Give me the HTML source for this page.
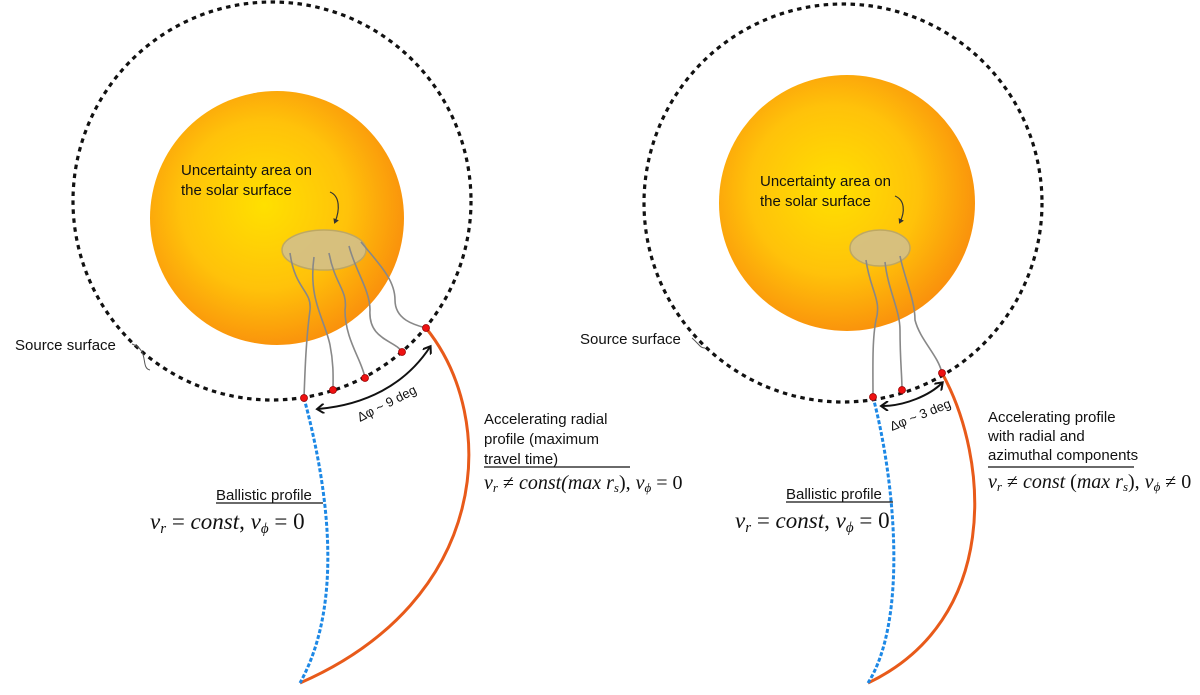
<!DOCTYPE html>
<html><head><meta charset="utf-8"><style>
body{margin:0;background:#fff;width:1200px;height:690px;overflow:hidden}
svg text{font-family:"Liberation Sans",sans-serif;fill:#111}
.m{font-family:"Liberation Serif",serif;font-style:italic}
</style></head><body>
<svg width="1200" height="690" viewBox="0 0 1200 690">
<defs>
<radialGradient id="sun" cx="0.45" cy="0.45" r="0.6">
<stop offset="0" stop-color="#ffe000"/><stop offset="0.55" stop-color="#ffc20a"/><stop offset="1" stop-color="#f98a0c"/>
</radialGradient>
<marker id="ah" markerWidth="10" markerHeight="10" refX="7" refY="5" orient="auto-start-reverse" markerUnits="userSpaceOnUse"><path d="M1,0 L8,5 L1,10" fill="none" stroke="#111" stroke-width="2"/></marker>
<marker id="sa" markerWidth="6" markerHeight="6" refX="3" refY="3" orient="auto" markerUnits="userSpaceOnUse"><path d="M0,0 L5,3 L0,6 z" fill="#333"/></marker>
</defs>
<!-- LEFT -->
<circle cx="272" cy="201" r="199" fill="none" stroke="#111" stroke-width="3.2" stroke-dasharray="4.5 4.5"/>
<circle cx="277" cy="218" r="127" fill="url(#sun)"/>
<ellipse cx="324" cy="250" rx="42" ry="20" fill="#d3c08a" stroke="#b8a56c" stroke-width="1.5" opacity="0.9"/>
<g fill="none" stroke="#888" stroke-width="1.6">
<path d="M290,253 C295,290 312,290 310,310 C306,340 305,370 304,398"/>
<path d="M314,257 C308,300 325,320 330,345 C334,365 333,380 333,390"/>
<path d="M329,253 C335,285 348,290 345,310 C345,340 362,360 365,378"/>
<path d="M349,246 C355,270 370,290 370,310 C368,340 395,340 402,352"/>
<path d="M361,242 C380,265 395,280 395,300 C395,320 415,325 426,328"/>
<path d="M330,192 C340,196 340,210 335,222" stroke="#333" stroke-width="1.2" marker-end="url(#sa)"/>
</g>
<path d="M426,328 C500,420 490,600 300,683" fill="none" stroke="#e85a1a" stroke-width="3"/>
<path d="M304,398 C326,480 346,600 300,683" fill="none" stroke="#1d88e5" stroke-width="3" stroke-dasharray="4 2"/>
<g fill="#e11" stroke="#900" stroke-width="0.8"><circle cx="304" cy="398" r="3.5"/><circle cx="333" cy="390" r="3.5"/><circle cx="365" cy="378" r="3.5"/><circle cx="402" cy="352" r="3.5"/><circle cx="426" cy="328" r="3.5"/></g>
<path d="M318,409 C365,405 405,385 430,347" fill="none" stroke="#111" stroke-width="2" marker-start="url(#ah)" marker-end="url(#ah)"/>
<text x="360" y="422" font-size="13" transform="rotate(-27 360 422)">Δφ ~ 9 deg</text>
<text x="181" y="175" font-size="15">Uncertainty area on</text>
<text x="181" y="195" font-size="15">the solar surface</text>
<text x="15" y="350" font-size="15">Source surface</text>
<path d="M132,344 C150,350 140,368 150,370" fill="none" stroke="#555" stroke-width="1"/>
<text x="484" y="424" font-size="15">Accelerating radial</text>
<text x="484" y="444" font-size="15">profile (maximum</text>
<text x="484" y="464" font-size="15">travel time)</text>
<line x1="484" y1="467" x2="630" y2="467" stroke="#111" stroke-width="1.2"/>
<text x="484" y="489" font-size="20" class="m">v<tspan font-size="13" dy="3">r</tspan><tspan dy="-3" font-style="normal"> ≠ </tspan>const(max r<tspan font-size="13" dy="3">s</tspan><tspan dy="-3" font-style="normal">), </tspan>v<tspan font-size="13" dy="3">ϕ</tspan><tspan dy="-3" font-style="normal"> = 0</tspan></text>
<text x="216" y="500" font-size="15">Ballistic profile</text>
<line x1="216" y1="503" x2="323" y2="503" stroke="#111" stroke-width="1.2"/>
<text x="150" y="529" font-size="23" class="m">v<tspan font-size="15" dy="4">r</tspan><tspan dy="-4" font-style="normal"> = </tspan>const<tspan font-style="normal">, </tspan>v<tspan font-size="15" dy="4">ϕ</tspan><tspan dy="-4" font-style="normal"> = 0</tspan></text>
<!-- RIGHT -->
<circle cx="843" cy="203" r="199" fill="none" stroke="#111" stroke-width="3.2" stroke-dasharray="4.5 4.5"/>
<circle cx="847" cy="203" r="128" fill="url(#sun)"/>
<ellipse cx="880" cy="248" rx="30" ry="18" fill="#d3c08a" stroke="#b8a56c" stroke-width="1.5" opacity="0.9"/>
<g fill="none" stroke="#888" stroke-width="1.6">
<path d="M866,260 C870,290 882,300 876,320 C872,340 873,370 873,397"/>
<path d="M885,262 C888,290 900,310 900,330 C900,360 902,375 902,390"/>
<path d="M900,256 C905,280 915,300 915,320 C920,340 938,355 942,373"/>
<path d="M895,196 C905,200 905,212 900,222" stroke="#333" stroke-width="1.2" marker-end="url(#sa)"/>
</g>
<path d="M942,373 C990,460 1000,620 868,683" fill="none" stroke="#e85a1a" stroke-width="3"/>
<path d="M873,397 C895,480 908,620 868,683" fill="none" stroke="#1d88e5" stroke-width="3" stroke-dasharray="4 2"/>
<g fill="#e11" stroke="#900" stroke-width="0.8"><circle cx="873" cy="397" r="3.5"/><circle cx="902" cy="390" r="3.5"/><circle cx="942" cy="373" r="3.5"/></g>
<path d="M882,406 C905,406 930,395 942,383" fill="none" stroke="#111" stroke-width="2" marker-start="url(#ah)" marker-end="url(#ah)"/>
<text x="892" y="431" font-size="13" transform="rotate(-22 892 431)">Δφ ~ 3 deg</text>
<text x="760" y="186" font-size="15">Uncertainty area on</text>
<text x="760" y="206" font-size="15">the solar surface</text>
<text x="580" y="344" font-size="15">Source surface</text>
<path d="M692,338 C700,345 700,348 705,348" fill="none" stroke="#555" stroke-width="1"/>
<text x="988" y="422" font-size="15">Accelerating profile</text>
<text x="988" y="441" font-size="15">with radial and</text>
<text x="988" y="460" font-size="15">azimuthal components</text>
<line x1="988" y1="467" x2="1134" y2="467" stroke="#111" stroke-width="1.2"/>
<text x="988" y="488" font-size="20" class="m">v<tspan font-size="13" dy="3">r</tspan><tspan dy="-3" font-style="normal"> ≠ </tspan>const <tspan font-style="normal">(</tspan>max r<tspan font-size="13" dy="3">s</tspan><tspan dy="-3" font-style="normal">), </tspan>v<tspan font-size="13" dy="3">ϕ</tspan><tspan dy="-3" font-style="normal"> ≠ 0</tspan></text>
<text x="786" y="499" font-size="15">Ballistic profile</text>
<line x1="786" y1="502" x2="893" y2="502" stroke="#111" stroke-width="1.2"/>
<text x="735" y="528" font-size="23" class="m">v<tspan font-size="15" dy="4">r</tspan><tspan dy="-4" font-style="normal"> = </tspan>const<tspan font-style="normal">, </tspan>v<tspan font-size="15" dy="4">ϕ</tspan><tspan dy="-4" font-style="normal"> = 0</tspan></text>
</svg>
</body></html>
